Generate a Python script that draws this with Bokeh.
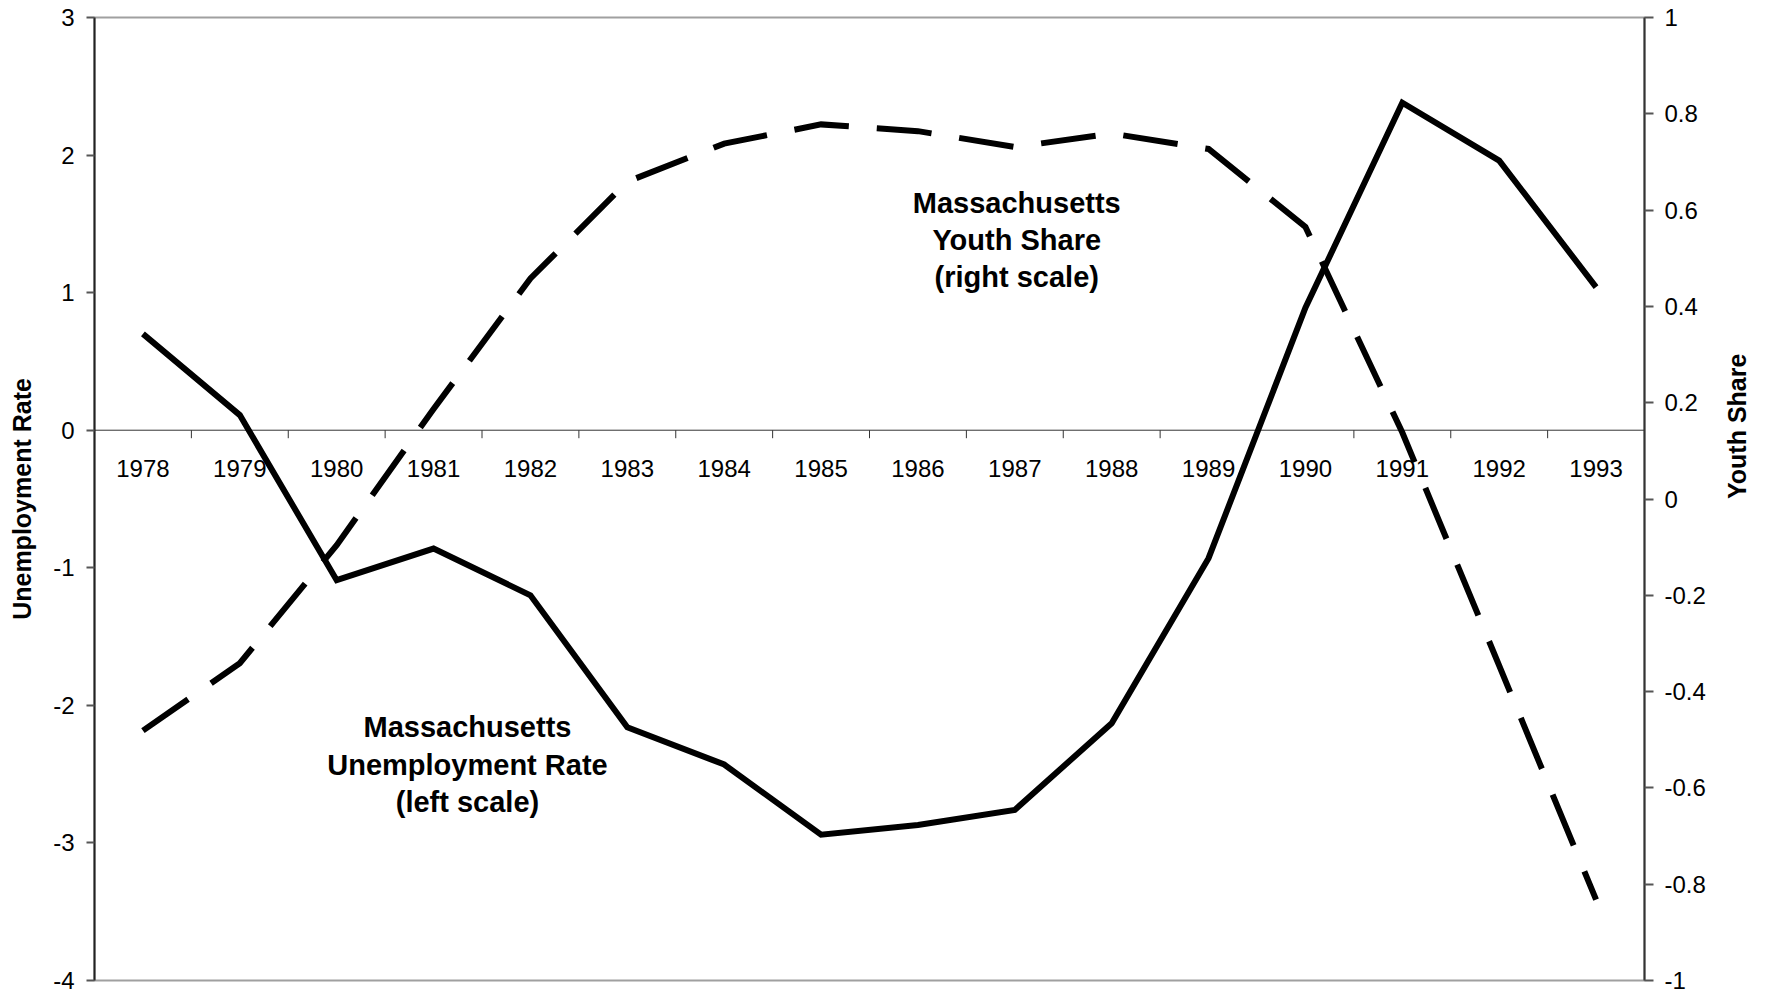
import math
from bokeh.plotting import figure
from bokeh.models import Range1d, LinearAxis, FixedTicker, NumeralTickFormatter, Span
from bokeh.core.properties import value
from bokeh.embed import file_html
from bokeh.resources import INLINE

years = [str(y) for y in range(1978, 1994)]
unemployment = [0.70, 0.11, -1.09, -0.86, -1.20, -2.16, -2.43, -2.94, -2.87, -2.76,
                -2.13, -0.93, 0.89, 2.38, 1.96, 1.04]
youth_share = [-0.481, -0.341, -0.096, 0.187, 0.458, 0.659, 0.738, 0.778, 0.764, 0.731,
               0.759, 0.727, 0.565, 0.138, -0.346, -0.832]
left_ticks = [-4, -3, -2, -1, 0, 1, 2, 3]
right_ticks = [-1, -0.8, -0.6, -0.4, -0.2, 0, 0.2, 0.4, 0.6, 0.8, 1]
left_label = "Unemployment Rate"
right_label = "Youth Share"
note_unemp = "Massachusetts\nUnemployment Rate\n(left scale)"
note_youth = "Massachusetts\nYouth Share\n(right scale)"

FONT = "Liberation Sans"
n = len(years)
xc = [i + 0.5 for i in range(n)]
bounds = [i for i in range(1, n)]

p = figure(width=1767, height=994, x_range=Range1d(0, n), y_range=Range1d(-4, 3),
           output_backend="svg", toolbar_location=None, x_axis_location=None,
           min_border_left=94, min_border_right=119, min_border_top=17, min_border_bottom=14)
p.grid.visible = False
p.outline_line_color = "#a0a0a0"
p.outline_line_width = 2
p.background_fill_color = "white"
p.border_fill_color = "white"

# left axis
la = p.yaxis[0]
la.ticker = FixedTicker(ticks=left_ticks)
la.formatter = NumeralTickFormatter(format="0")
la.axis_label = left_label
la.axis_label_text_font = FONT
la.axis_label_text_font_size = "25px"
la.axis_label_text_font_style = "bold"
la.axis_label_text_color = "black"
la.axis_label_standoff = 14
la.major_label_text_font = FONT
la.major_label_text_font_size = "24px"
la.major_label_text_color = "black"
la.major_label_standoff = 12
la.major_tick_out = 8
la.major_tick_in = 0
la.minor_tick_out = 0
la.minor_tick_in = 0
la.axis_line_color = "#222222"
la.axis_line_width = 2
la.major_tick_line_color = "#555555"
la.major_tick_line_width = 2

# right axis
p.extra_y_ranges = {"right": Range1d(-1, 1)}
ra = LinearAxis(y_range_name="right", ticker=FixedTicker(ticks=right_ticks),
                formatter=NumeralTickFormatter(format="0.[0]"))
ra.axis_label = right_label
ra.axis_label_orientation = math.pi / 2
ra.axis_label_text_font = FONT
ra.axis_label_text_font_size = "25px"
ra.axis_label_text_font_style = "bold"
ra.axis_label_text_color = "black"
ra.axis_label_standoff = 28
ra.major_label_text_font = FONT
ra.major_label_text_font_size = "24px"
ra.major_label_text_color = "black"
ra.major_label_standoff = 11
ra.major_tick_out = 9
ra.major_tick_in = 0
ra.minor_tick_out = 0
ra.minor_tick_in = 0
ra.axis_line_color = "#333333"
ra.axis_line_width = 2
ra.major_tick_line_color = "#555555"
ra.major_tick_line_width = 2
p.add_layout(ra, "right")

# zero line acting as category axis
p.add_layout(Span(location=0, dimension="width", line_color="#333333", line_width=1,
                  level="underlay"))
p.ray(x=bounds, y=[0] * len(bounds), length=8, length_units="screen",
      angle=-math.pi / 2, line_color="#333333", line_width=1)
p.text(x=xc, y=[0] * n, text=years, text_font=value(FONT), text_font_size="24px",
       text_align="center", text_baseline="middle", y_offset=38, text_color="black")

# series
p.line(xc, unemployment, line_color="black", line_width=6, line_join="miter")
p.line(xc, youth_share, y_range_name="right", line_color="black", line_width=6,
       line_dash="55 28", line_join="miter")

# annotations
p.text(x=[3.85], y=[-2.43], text=[note_unemp], text_font=value(FONT),
       text_font_size="29px", text_font_style="bold", text_align="center",
       text_baseline="middle", text_line_height=1.16, text_color="black")
p.text(x=[9.52], y=[1.38], text=[note_youth], text_font=value(FONT),
       text_font_size="29px", text_font_style="bold", text_align="center",
       text_baseline="middle", text_line_height=1.16, text_color="black")

open("out.html", "w").write(file_html(p, INLINE))
